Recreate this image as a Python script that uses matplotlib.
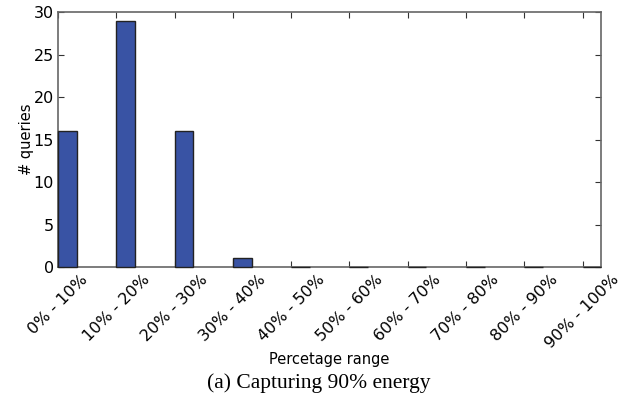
import numpy as np
import matplotlib
matplotlib.use("Agg")
import matplotlib.pyplot as plt

categories = ["0% - 10%", "10% - 20%", "20% - 30%", "30% - 40%", "40% - 50%",
              "50% - 60%", "60% - 70%", "70% - 80%", "80% - 90%", "90% - 100%"]
counts = [16, 29, 16, 1, 0, 0, 0, 0, 0, 0]

plt.rcParams['font.family'] = ['DejaVu Sans']

fig = plt.figure(figsize=(6.37, 4.07), dpi=100)
ax = fig.add_axes([0.091, 0.344, 0.852, 0.626])

x = np.arange(len(categories))
ax.bar(x, counts, width=0.32, align='edge', color='#3953a4',
       edgecolor='#222222', linewidth=1.0, clip_on=False, zorder=3)

ax.set_xlim(0, 9.31)
ax.set_ylim(0, 30)
ax.set_xticks(x)
ax.set_xticklabels(categories, rotation=45, ha='center', fontsize=11.5)
ax.set_yticks([0, 5, 10, 15, 20, 25, 30])
ax.tick_params(axis='y', labelsize=11.5, pad=3)
ax.tick_params(direction='in', top=True, right=True, length=4, color='#333333')
for s in ax.spines.values():
    s.set_color('#666666')
    s.set_linewidth(1.2)

ax.set_ylabel("# queries", fontsize=10.5)
ax.yaxis.set_label_coords(-0.045, 0.5)
ax.set_xlabel("Percetage range", fontsize=10.5)
ax.xaxis.set_label_coords(0.5, -0.335)

fig.text(0.5, 0.058, "(a) Capturing 90% energy", ha='center', va='center',
         fontsize=15.5, family='Liberation Serif')

fig.savefig("out.png", dpi=100)
